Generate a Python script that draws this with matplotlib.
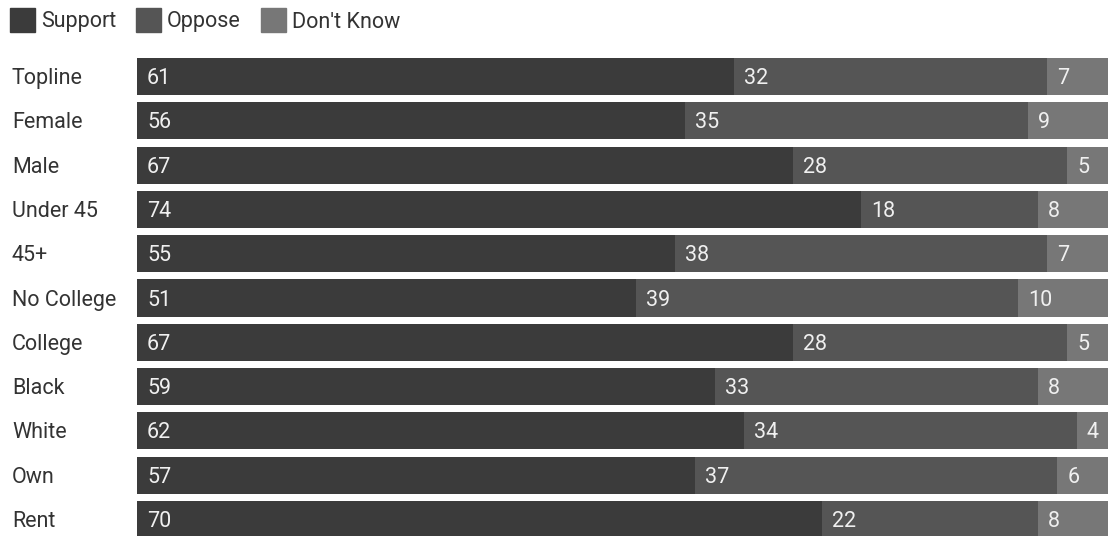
import matplotlib
matplotlib.use("Agg")
import matplotlib.pyplot as plt
import matplotlib.transforms as mtrans
from matplotlib.patches import Rectangle

plt.rcParams['font.family'] = ['Roboto', 'DejaVu Sans']

categories = ["Topline", "Female", "Male", "Under 45", "45+", "No College",
              "College", "Black", "White", "Own", "Rent"]
support = [61, 56, 67, 74, 55, 51, 67, 59, 62, 57, 70]
oppose = [32, 35, 28, 18, 38, 39, 28, 33, 34, 37, 22]
dont_know = [7, 9, 5, 8, 7, 10, 5, 8, 4, 6, 8]
series_names = ["Support", "Oppose", "Don't Know"]
colors = ["#3b3b3b", "#555555", "#777777"]

W, H = 1108, 536
fig = plt.figure(figsize=(W / 100, H / 100), dpi=100)
x0, x1 = 137, 1116
ax_top, ax_bot = 58, 538
ax = fig.add_axes([x0 / W, 1 - ax_bot / H, (x1 - x0) / W, (ax_bot - ax_top) / H])

n = len(categories)
bar_h = 0.84
ys = list(range(n))
series = [support, oppose, dont_know]
lefts = [0] * n
px_per_unit = (x1 - x0) / 100
down = mtrans.ScaledTranslation(0, -2 / 100, fig.dpi_scale_trans)
for vals, col in zip(series, colors):
    ax.barh(ys, vals, left=lefts, height=bar_h, color=col, edgecolor='none')
    for y, v, l in zip(ys, vals, lefts):
        ax.text(l + 10 / px_per_unit, y, str(v), ha='left', va='center',
                color='#f0f0f0', fontsize=15.5, transform=ax.transData + down)
    lefts = [a + b for a, b in zip(lefts, vals)]

ax.set_xlim(0, 100)
ax.set_ylim(n - 1 + bar_h / 2, -bar_h / 2)
ax.axis('off')

# category labels
blend = mtrans.blended_transform_factory(fig.transFigure, ax.transData)
for y, c in zip(ys, categories):
    fig.text(12 / W, y, c, transform=blend + down, ha='left', va='center',
             fontsize=15.5, color='#333333')

# legend
x = 10
for name, col in zip(series_names, colors):
    fig.patches.append(Rectangle((x / W, 1 - 32 / H), 25 / W, 24 / H,
                                 transform=fig.transFigure, color=col, figure=fig))
    t = fig.text((x + 31) / W, 1 - 22 / H, name, ha='left', va='center',
                 fontsize=15.5, color='#333333')
    fig.canvas.draw()
    bb = t.get_window_extent()
    x = bb.x1 + 20

fig.savefig("out.png", dpi=100)
